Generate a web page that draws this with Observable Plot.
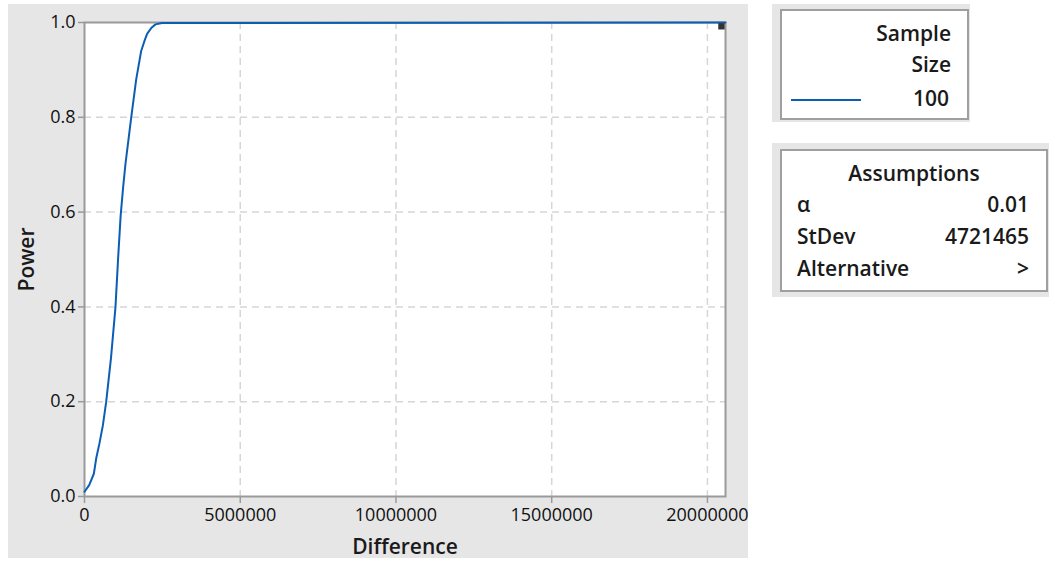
<!DOCTYPE html>
<html>
<head>
<meta charset="utf-8">
<script src="https://cdn.jsdelivr.net/npm/d3@7"></script>
<script src="https://cdn.jsdelivr.net/npm/@observablehq/plot@0.6"></script>
<style>
  body { margin: 0; background: #ffffff; font-family: "Open Sans", "Noto Sans", sans-serif; color: #111; }
  #page { position: relative; width: 1049px; height: 561px; overflow: hidden; }
  #chart { position: absolute; left: 8px; top: 4px; }
  .panel { position: absolute; background: #e6e6e6; }
  .box { position: absolute; background: #fff; border: 2px solid #9f9f9f; box-sizing: border-box; }
  .t { position: absolute; font-size: 21px; font-weight: 600; line-height: 1; white-space: nowrap; color: #1a1a1a; }
</style>
</head>
<body>
<div id="page">
  <div id="chart"></div>

  <!-- sample size legend -->
  <div class="panel" style="left:772px; top:4px; width:198px; height:118px;"></div>
  <div class="box" style="left:780px; top:9px; width:189px; height:111px;">
    <div class="t" id="ssTitle1" style="right:16px; top:12px;"></div>
    <div class="t" id="ssTitle2" style="right:16px; top:43px;"></div>
    <div id="ssSwatch" style="position:absolute; left:9px; top:88px; width:70px; height:0; border-top:2px solid #0c5db4;"></div>
    <div class="t" id="ssValue" style="right:18px; top:77px;"></div>
  </div>

  <!-- assumptions table -->
  <div class="panel" style="left:772px; top:143px; width:277px; height:154px;"></div>
  <div class="box" id="assump" style="left:780px; top:149px; width:268px; height:143px;"></div>
</div>

<script>
// Power curve: difference vs. power for a one-sided test, n = 100
const difference = [0, 150000, 300000, 375000, 480000, 590000, 695000, 850000, 995000, 1077000, 1160000, 1240000, 1316000, 1410000, 1500000, 1660000, 1820000, 1920000, 2010000, 2150000, 2280000, 2490000, 20580000];
const power      = [0.010, 0.024, 0.048, 0.080, 0.112, 0.150, 0.199, 0.292, 0.400, 0.500, 0.592, 0.652, 0.702, 0.752, 0.800, 0.880, 0.940, 0.960, 0.976, 0.989, 0.996, 0.999, 1.000];

// marker for the requested design point
const pointDifference = [20450000];
const pointPower = [0.992];

const xTicks = [0, 5000000, 10000000, 15000000, 20000000];
const yTicks = [0, 0.2, 0.4, 0.6, 0.8, 1.0];
const xGrid = [5000000, 10000000, 15000000, 20000000];
const yGrid = [0.2, 0.4, 0.6, 0.8];

const xTitle = "Difference";
const yTitle = "Power";

// legend and assumption text
const sampleSizeHeader = ["Sample", "Size"];
const sampleSizes = [100];
const assumptionTitle = "Assumptions";
const assumptionNames = ["α", "StDev", "Alternative"];
const assumptionValues = ["0.01", "4721465", ">"];

const curve = difference.map((d, i) => ({d, p: power[i]}));
const design = pointDifference.map((d, i) => ({d, p: pointPower[i]}));

const lineColor = "#0c5db4";
const axisColor = "#9a9a9a";
const gridColor = "#d6d6d6";

const chart = Plot.plot({
  width: 740,
  height: 554,
  marginLeft: 76,
  marginRight: 23,
  marginTop: 18,
  marginBottom: 62,
  style: {background: "#e6e6e6", fontFamily: "'Open Sans', 'Noto Sans', sans-serif", fontSize: "18px", color: "#111", overflow: "visible"},
  x: {domain: [0, 20580000]},
  y: {domain: [0, 1]},
  marks: [
    Plot.frame({fill: "#ffffff", stroke: "none"}),
    Plot.gridX(xGrid, {stroke: gridColor, strokeOpacity: 1, strokeWidth: 1.5, strokeDasharray: "7,5"}),
    Plot.gridY(yGrid, {stroke: gridColor, strokeOpacity: 1, strokeWidth: 1.5, strokeDasharray: "7,5"}),
    Plot.frame({stroke: axisColor, strokeWidth: 2}),
    Plot.axisX(xTicks, {tickSize: 7, tickPadding: 5, stroke: axisColor, strokeWidth: 1.5, tickFormat: d => String(d), label: null, fontSize: 18, fill: "#111"}),
    Plot.axisY(yTicks, {tickSize: 6, tickPadding: 3, stroke: axisColor, strokeWidth: 1.5, tickFormat: d => d.toFixed(1), label: null, fontSize: 18, fill: "#111"}),
    Plot.line(curve, {x: "d", y: "p", stroke: lineColor, strokeWidth: 2}),
    Plot.dot(design, {x: "d", y: "p", symbol: "square", r: 3.6, fill: "#333333", stroke: "none"}),
    Plot.text([xTitle], {frameAnchor: "bottom", dy: 51, text: d => d, fontSize: 21, fontWeight: 600, fill: "#1a1a1a", lineAnchor: "middle"}),
    Plot.text([yTitle], {frameAnchor: "left", dx: -57, rotate: -90, textAnchor: "middle", text: d => d, fontSize: 21, fontWeight: 600, fill: "#1a1a1a"})
  ]
});
document.getElementById("chart").appendChild(chart);

// sample size legend
document.getElementById("ssTitle1").textContent = sampleSizeHeader[0];
document.getElementById("ssTitle2").textContent = sampleSizeHeader[1];
document.getElementById("ssValue").textContent = String(sampleSizes[0]);

// assumptions table
const box = document.getElementById("assump");
const title = document.createElement("div");
title.className = "t";
title.style.left = "0"; title.style.right = "0"; title.style.top = "12px"; title.style.textAlign = "center";
title.textContent = assumptionTitle;
box.appendChild(title);
assumptionNames.forEach((name, i) => {
  const top = 43 + i * 32;
  const l = document.createElement("div");
  l.className = "t"; l.style.left = "15px"; l.style.top = top + "px";
  l.textContent = name;
  const r = document.createElement("div");
  r.className = "t"; r.style.right = "17px"; r.style.top = top + "px";
  r.textContent = assumptionValues[i];
  box.appendChild(l); box.appendChild(r);
});
</script>
</body>
</html>
